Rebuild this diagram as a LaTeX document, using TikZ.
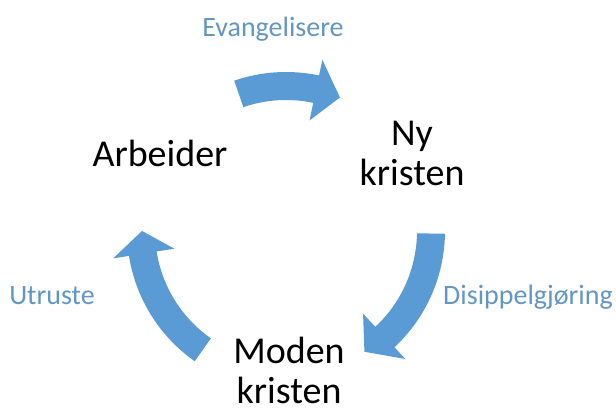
\documentclass[tikz,border=0pt]{standalone}
\usepackage{fontspec}
\setmainfont{Carlito}
\usepackage{xcolor}

\definecolor{pilblue}{RGB}{91,155,213}
\definecolor{tekstblue}{RGB}{98,150,196}

\newcommand{\sirkelpil}[3]{% tail, head base, tip
  \fill[pilblue] (#1:159pt) arc[start angle=#1, end angle=#2, radius=159pt]
    -- (#2:175pt) -- (#3:144pt) -- (#2:113pt) -- (#2:131pt)
    arc[start angle=#2, end angle=#1, radius=131pt] -- cycle;}

\begin{document}
\begin{tikzpicture}[x=1pt,y=1pt,
    stor/.style={font=\fontsize{38}{40}\selectfont, align=center, inner sep=0pt},
    liten/.style={font=\fontsize{28}{30}\selectfont, text=tekstblue, inner sep=0pt, anchor=base}]
    \useasboundingbox (0,0) rectangle (616,410);

    \coordinate (sentrum) at (286,179);
    \begin{scope}[shift={(sentrum)}]
        \sirkelpil{109}{78}{68}
        \sirkelpil{-1}{-47}{-57}
        \sirkelpil{235}{189}{180}
    \end{scope}

    \node[stor, anchor=base] (arbeider) at (160,243) {Arbeider};
    \node[stor] (ny) at (412,257) {Ny\\kristen};
    \node[stor] (moden) at (289,40) {Moden\\kristen};

    \node[liten] (evang) at (273,373) {Evangelisere};
    \node[liten] (disip) at (528,105) {Disippelgjøring};
    \node[liten] (utrust) at (52,105) {Utruste};
\end{tikzpicture}
\end{document}
